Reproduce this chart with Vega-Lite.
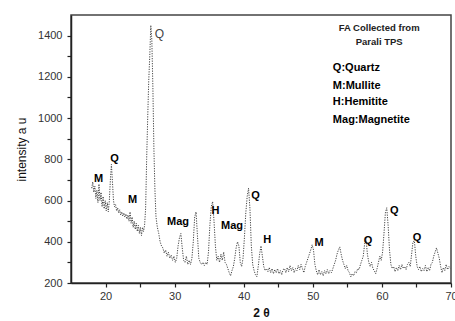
{
  "$schema": "https://vega.github.io/schema/vega-lite/v6.json",
  "width": 380,
  "height": 268,
  "autosize": {"type": "none"},
  "padding": {"left": 71, "top": 15, "right": 4, "bottom": 38},
  "background": "white",
  "config": {
    "view": {"stroke": "#444", "strokeWidth": 1.5},
    "font": "Liberation Sans"
  },
  "datasets": {
    "xrd": [
      {"t":18.0,"i":660},{"t":18.15,"i":690},{"t":18.3,"i":640},{"t":18.45,"i":670},{"t":18.6,"i":610},{"t":18.75,"i":650},{"t":18.9,"i":590},{"t":19.05,"i":680},{"t":19.2,"i":600},{"t":19.35,"i":640},{"t":19.5,"i":570},{"t":19.65,"i":620},{"t":19.8,"i":560},{"t":19.95,"i":600},{"t":20.1,"i":550},{"t":20.25,"i":590},{"t":20.4,"i":545},{"t":20.55,"i":600},{"t":20.7,"i":700},{"t":20.85,"i":775},{"t":21.0,"i":690},{"t":21.15,"i":600},{"t":21.3,"i":570},{"t":21.45,"i":580},{"t":21.6,"i":550},{"t":21.75,"i":565},{"t":21.9,"i":540},{"t":22.05,"i":555},{"t":22.2,"i":530},{"t":22.35,"i":545},{"t":22.5,"i":525},{"t":22.65,"i":540},{"t":22.8,"i":520},{"t":22.95,"i":535},{"t":23.1,"i":510},{"t":23.25,"i":530},{"t":23.4,"i":500},{"t":23.55,"i":545},{"t":23.7,"i":490},{"t":23.85,"i":520},{"t":24.0,"i":470},{"t":24.15,"i":500},{"t":24.3,"i":460},{"t":24.45,"i":490},{"t":24.6,"i":450},{"t":24.75,"i":480},{"t":24.9,"i":440},{"t":25.05,"i":470},{"t":25.2,"i":430},{"t":25.35,"i":470},{"t":25.5,"i":450},{"t":25.65,"i":480},{"t":25.8,"i":560},{"t":25.95,"i":800},{"t":26.1,"i":1000},{"t":26.25,"i":1180},{"t":26.4,"i":1300},{"t":26.55,"i":1450},{"t":26.7,"i":1380},{"t":26.85,"i":1150},{"t":27.0,"i":850},{"t":27.15,"i":650},{"t":27.3,"i":520},{"t":27.5,"i":470},{"t":27.7,"i":440},{"t":27.9,"i":400},{"t":28.1,"i":380},{"t":28.3,"i":370},{"t":28.5,"i":345},{"t":28.7,"i":360},{"t":28.9,"i":330},{"t":29.1,"i":350},{"t":29.3,"i":320},{"t":29.5,"i":335},{"t":29.7,"i":310},{"t":29.9,"i":330},{"t":30.1,"i":300},{"t":30.3,"i":320},{"t":30.5,"i":380},{"t":30.7,"i":420},{"t":30.9,"i":440},{"t":31.1,"i":370},{"t":31.3,"i":310},{"t":31.5,"i":300},{"t":31.7,"i":330},{"t":31.9,"i":290},{"t":32.1,"i":310},{"t":32.3,"i":290},{"t":32.5,"i":320},{"t":32.7,"i":400},{"t":32.9,"i":520},{"t":33.1,"i":545},{"t":33.3,"i":430},{"t":33.5,"i":320},{"t":33.7,"i":300},{"t":33.9,"i":290},{"t":34.1,"i":300},{"t":34.3,"i":285},{"t":34.5,"i":300},{"t":34.7,"i":290},{"t":34.9,"i":350},{"t":35.1,"i":480},{"t":35.3,"i":570},{"t":35.5,"i":595},{"t":35.7,"i":500},{"t":35.9,"i":380},{"t":36.1,"i":310},{"t":36.3,"i":330},{"t":36.5,"i":300},{"t":36.7,"i":340},{"t":36.9,"i":310},{"t":37.1,"i":350},{"t":37.3,"i":300},{"t":37.5,"i":290},{"t":37.7,"i":270},{"t":37.9,"i":250},{"t":38.1,"i":235},{"t":38.3,"i":260},{"t":38.5,"i":280},{"t":38.7,"i":320},{"t":38.9,"i":370},{"t":39.1,"i":400},{"t":39.3,"i":380},{"t":39.5,"i":300},{"t":39.7,"i":280},{"t":39.9,"i":320},{"t":40.1,"i":420},{"t":40.3,"i":540},{"t":40.5,"i":620},{"t":40.7,"i":660},{"t":40.9,"i":560},{"t":41.1,"i":380},{"t":41.3,"i":290},{"t":41.5,"i":260},{"t":41.7,"i":240},{"t":41.9,"i":230},{"t":42.1,"i":280},{"t":42.3,"i":340},{"t":42.5,"i":380},{"t":42.7,"i":330},{"t":42.9,"i":280},{"t":43.1,"i":260},{"t":43.3,"i":270},{"t":43.5,"i":255},{"t":43.7,"i":275},{"t":43.9,"i":250},{"t":44.1,"i":270},{"t":44.3,"i":245},{"t":44.5,"i":265},{"t":44.7,"i":250},{"t":44.9,"i":270},{"t":45.1,"i":245},{"t":45.3,"i":260},{"t":45.5,"i":240},{"t":45.7,"i":265},{"t":45.9,"i":270},{"t":46.1,"i":250},{"t":46.3,"i":275},{"t":46.5,"i":255},{"t":46.7,"i":285},{"t":46.9,"i":260},{"t":47.1,"i":275},{"t":47.3,"i":250},{"t":47.5,"i":270},{"t":47.7,"i":260},{"t":47.9,"i":285},{"t":48.1,"i":265},{"t":48.3,"i":290},{"t":48.5,"i":270},{"t":48.7,"i":250},{"t":48.9,"i":280},{"t":49.1,"i":300},{"t":49.3,"i":320},{"t":49.5,"i":340},{"t":49.7,"i":360},{"t":49.9,"i":385},{"t":50.1,"i":360},{"t":50.3,"i":290},{"t":50.5,"i":260},{"t":50.7,"i":240},{"t":50.9,"i":265},{"t":51.1,"i":240},{"t":51.3,"i":255},{"t":51.5,"i":235},{"t":51.7,"i":260},{"t":51.9,"i":245},{"t":52.1,"i":265},{"t":52.3,"i":245},{"t":52.5,"i":260},{"t":52.7,"i":250},{"t":52.9,"i":270},{"t":53.1,"i":290},{"t":53.3,"i":310},{"t":53.5,"i":340},{"t":53.7,"i":360},{"t":53.9,"i":375},{"t":54.1,"i":340},{"t":54.3,"i":310},{"t":54.5,"i":290},{"t":54.7,"i":270},{"t":54.9,"i":285},{"t":55.1,"i":260},{"t":55.3,"i":250},{"t":55.5,"i":230},{"t":55.7,"i":245},{"t":55.9,"i":235},{"t":56.1,"i":255},{"t":56.3,"i":250},{"t":56.5,"i":270},{"t":56.7,"i":265},{"t":56.9,"i":290},{"t":57.1,"i":310},{"t":57.3,"i":330},{"t":57.5,"i":390},{"t":57.7,"i":415},{"t":57.9,"i":340},{"t":58.1,"i":300},{"t":58.3,"i":280},{"t":58.5,"i":300},{"t":58.7,"i":270},{"t":58.9,"i":260},{"t":59.1,"i":245},{"t":59.3,"i":270},{"t":59.5,"i":300},{"t":59.7,"i":330},{"t":59.9,"i":310},{"t":60.1,"i":350},{"t":60.3,"i":440},{"t":60.5,"i":540},{"t":60.7,"i":565},{"t":60.9,"i":480},{"t":61.1,"i":360},{"t":61.3,"i":290},{"t":61.5,"i":270},{"t":61.7,"i":280},{"t":61.9,"i":255},{"t":62.1,"i":275},{"t":62.3,"i":260},{"t":62.5,"i":285},{"t":62.7,"i":265},{"t":62.9,"i":290},{"t":63.1,"i":270},{"t":63.3,"i":280},{"t":63.5,"i":265},{"t":63.7,"i":290},{"t":63.9,"i":300},{"t":64.1,"i":280},{"t":64.3,"i":340},{"t":64.5,"i":400},{"t":64.7,"i":405},{"t":64.9,"i":330},{"t":65.1,"i":280},{"t":65.3,"i":265},{"t":65.5,"i":280},{"t":65.7,"i":255},{"t":65.9,"i":270},{"t":66.1,"i":260},{"t":66.3,"i":285},{"t":66.5,"i":255},{"t":66.7,"i":275},{"t":66.9,"i":260},{"t":67.1,"i":290},{"t":67.3,"i":300},{"t":67.5,"i":330},{"t":67.7,"i":350},{"t":67.9,"i":370},{"t":68.1,"i":345},{"t":68.3,"i":320},{"t":68.5,"i":280},{"t":68.7,"i":250},{"t":68.9,"i":275},{"t":69.1,"i":260},{"t":69.3,"i":290},{"t":69.5,"i":265},{"t":69.7,"i":280},{"t":69.9,"i":270}
    ],
    "peaks": [
      {"t":19.0,"i":703,"lab":"M"},
      {"t":21.3,"i":800,"lab":"Q"},
      {"t":23.9,"i":602,"lab":"M"},
      {"t":30.5,"i":495,"lab":"Mag"},
      {"t":35.9,"i":548,"lab":"H"},
      {"t":38.3,"i":476,"lab":"Mag"},
      {"t":41.7,"i":621,"lab":"Q"},
      {"t":43.4,"i":408,"lab":"H"},
      {"t":50.9,"i":394,"lab":"M"},
      {"t":58.0,"i":403,"lab":"Q"},
      {"t":61.8,"i":548,"lab":"Q"},
      {"t":65.1,"i":418,"lab":"Q"}
    ],
    "mainq": [{"t":27.8,"i":1410,"lab":"Q"}],
    "header": [
      {"t":59.6,"i":1439,"lab":"FA Collected from"},
      {"t":59.6,"i":1371,"lab":"Parali TPS"}
    ],
    "key": [
      {"t":52.9,"i":1241,"lab":"Q:Quartz"},
      {"t":52.9,"i":1158,"lab":"M:Mullite"},
      {"t":52.9,"i":1076,"lab":"H:Hemitite"},
      {"t":52.9,"i":989,"lab":"Mag:Magnetite"}
    ]
  },
  "encoding": {
    "x": {
      "field": "t", "type": "quantitative",
      "scale": {"domain": [15, 70], "nice": false, "zero": false},
      "axis": {
        "title": "2 θ", "titleFontWeight": "bold", "titleFontSize": 12, "titleColor": "#111", "titlePadding": 6,
        "values": [20,25,30,35,40,45,50,55,60,65,70],
        "labelExpr": "datum.value % 10 == 0 ? datum.label : ''",
        "labelFontSize": 11, "labelColor": "#333", "labelPadding": 3, "labelFlush": false,
        "grid": false, "tickSize": 4, "tickColor": "#222", "domainColor": "#222", "domainWidth": 1.5, "tickWidth": 1.2
      }
    },
    "y": {
      "field": "i", "type": "quantitative",
      "scale": {"domain": [200, 1500], "nice": false, "zero": false},
      "axis": {
        "title": "intensity a u", "titleFontWeight": "normal", "titleFontSize": 12, "titleColor": "#111", "titlePadding": 9,
        "values": [200,300,400,500,600,700,800,900,1000,1100,1200,1300,1400],
        "labelExpr": "datum.value % 200 == 0 ? datum.label : ''",
        "format": "d",
        "labelFontSize": 11, "labelColor": "#333", "labelPadding": 5,
        "grid": false, "tickSize": 4, "tickColor": "#222", "domainColor": "#222", "domainWidth": 1.5, "tickWidth": 1.2
      }
    }
  },
  "layer": [
    {
      "data": {"name": "xrd"},
      "mark": {"type": "line", "color": "#444", "strokeWidth": 1, "strokeDash": [1.2, 1.3], "interpolate": "linear"}
    },
    {
      "data": {"name": "peaks"},
      "mark": {"type": "text", "fontWeight": "bold", "fontSize": 11, "color": "#000", "align": "center", "baseline": "middle"},
      "encoding": {"text": {"field": "lab"}}
    },
    {
      "data": {"name": "mainq"},
      "mark": {"type": "text", "fontWeight": "normal", "fontSize": 12, "color": "#444", "align": "center", "baseline": "middle"},
      "encoding": {"text": {"field": "lab"}}
    },
    {
      "data": {"name": "header"},
      "mark": {"type": "text", "fontWeight": "bold", "fontSize": 9.5, "color": "#222", "align": "center", "baseline": "middle"},
      "encoding": {"text": {"field": "lab"}}
    },
    {
      "data": {"name": "key"},
      "mark": {"type": "text", "fontWeight": "bold", "fontSize": 11, "color": "#000", "align": "left", "baseline": "middle"},
      "encoding": {"text": {"field": "lab"}}
    }
  ]
}
